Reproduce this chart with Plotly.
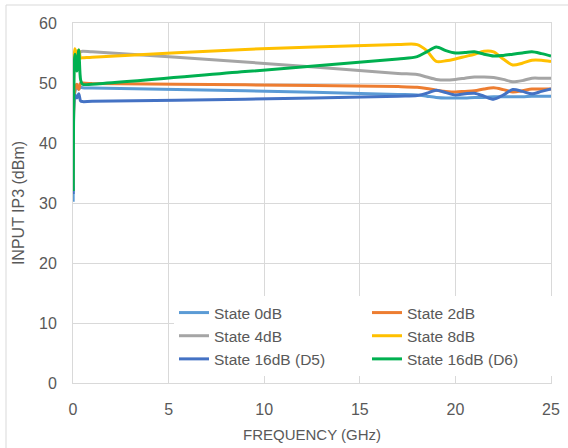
import plotly.graph_objects as go

freq = [0.01, 0.1, 0.2, 0.3, 0.4, 0.5, 1, 9, 17, 18, 18.5, 19, 19.5, 20, 20.5, 21,
        21.5, 22, 22.5, 23, 23.5, 24, 24.5, 25]

state_0db = [30.2, 48.5, 49.3, 49.0, 49.3, 49.2, 49.15, 48.7, 48.1, 48.0, 47.8, 47.6,
             47.5, 47.5, 47.5, 47.6, 47.6, 47.7, 47.7, 47.7, 47.7, 47.8, 47.8, 47.8]
state_2db = [32.0, 49.0, 49.8, 48.9, 50.0, 50.0, 49.9, 49.7, 49.4, 49.3, 49.1, 48.8,
             48.6, 48.5, 48.6, 48.7, 49.0, 49.2, 48.9, 48.5, 48.7, 49.0, 49.0, 49.0]
state_4db = [32.5, 54.8, 55.3, 55.0, 55.2, 55.3, 55.2, 53.5, 51.6, 51.4, 51.0, 50.6,
             50.5, 50.6, 50.8, 51.0, 51.0, 50.9, 50.6, 50.2, 50.4, 50.8, 50.8, 50.8]
state_8db = [32.8, 55.7, 54.5, 55.5, 54.2, 54.2, 54.3, 55.6, 56.4, 56.4, 55.4, 53.6,
             53.7, 54.0, 54.4, 54.8, 55.3, 55.2, 54.0, 53.0, 53.3, 53.8, 53.8, 53.6]
state_16db_d5 = [31.5, 48.0, 47.5, 48.2, 47.0, 46.9, 46.95, 47.3, 47.8, 47.9, 48.3,
                 48.8, 48.4, 48.0, 48.2, 48.3, 47.8, 47.3, 48.0, 48.9, 48.6, 48.2,
                 48.6, 49.0]
state_16db_d6 = [32.0, 54.8, 52.0, 55.5, 50.5, 49.8, 49.8, 51.9, 54.0, 54.4, 55.2,
                 56.0, 55.4, 55.0, 55.1, 55.2, 54.8, 54.5, 54.6, 54.8, 55.0, 55.2,
                 54.9, 54.5]

series = [
    ("State 0dB", state_0db, "#5B9BD5"),
    ("State 2dB", state_2db, "#ED7D31"),
    ("State 4dB", state_4db, "#A5A5A5"),
    ("State 8dB", state_8db, "#FFC000"),
    ("State 16dB (D5)", state_16db_d5, "#4472C4"),
    ("State 16dB (D6)", state_16db_d6, "#00B050"),
]

FONT = "Liberation Sans, Arial, sans-serif"
TXT = "#595959"
GRID = "#D9D9D9"

fig = go.Figure()
for name, vals, col in series:
    fig.add_trace(go.Scatter(x=freq, y=vals, name=name, mode="lines",
                             line=dict(color=col, width=3, shape="spline", smoothing=0.8)))

W, H = 568, 448
L, R, T, B = 73, 17, 23, 65
pw, ph = W - L - R, H - T - B

fig.update_layout(
    width=W, height=H,
    margin=dict(l=L, r=R, t=T, b=B, autoexpand=False),
    paper_bgcolor="white", plot_bgcolor="white",
    font=dict(family=FONT, size=15, color=TXT),
    showlegend=True,
    legend=dict(orientation="h", x=(174 - L) / pw, y=(H - B - 296) / ph,
                xanchor="left", yanchor="top", bgcolor="white",
                entrywidth=148, entrywidthmode="pixels",
                font=dict(family=FONT, size=15.5, color=TXT)),
    xaxis=dict(range=[0, 25], dtick=5, showgrid=True, gridcolor=GRID, gridwidth=1,
               showline=True, linecolor=GRID, linewidth=1, mirror=True,
               zeroline=False, ticks="", ticklabelstandoff=12,
               tickfont=dict(family=FONT, size=16, color=TXT),
               title=dict(text="FREQUENCY (GHz)", standoff=12,
                          font=dict(family=FONT, size=15, color=TXT))),
    yaxis=dict(range=[0, 60], dtick=10, showgrid=True, gridcolor=GRID, gridwidth=1,
               showline=True, linecolor=GRID, linewidth=1, mirror=True,
               zeroline=False, ticks="", ticklabelstandoff=12,
               tickfont=dict(family=FONT, size=16, color=TXT),
               title=dict(text="INPUT IP3 (dBm)", standoff=10,
                          font=dict(family=FONT, size=16, color=TXT))),
)

fig.add_shape(type="rect", xref="paper", yref="paper",
              x0=(6 - L) / pw, x1=(W + 10 - L) / pw,
              y0=(H - B - (H + 10)) / ph, y1=(H - B - 5) / ph,
              line=dict(color=GRID, width=1), fillcolor="rgba(0,0,0,0)", layer="below")

fig.write_html("out.html")
